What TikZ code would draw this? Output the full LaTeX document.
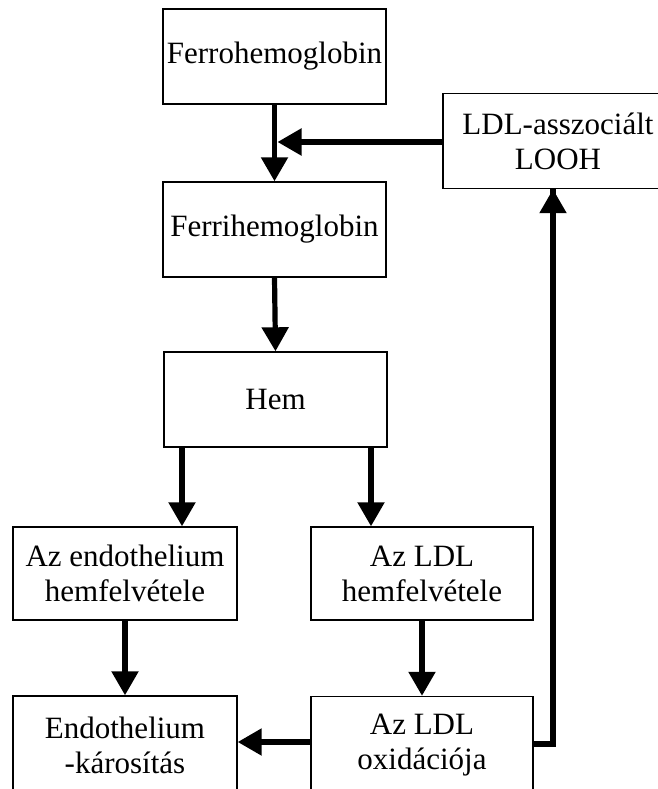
\documentclass[tikz,border=0pt]{standalone}
\usepackage{fontspec}
\setmainfont{Liberation Serif}
\usetikzlibrary{arrows.meta}
\tikzset{
  box/.style={draw=black, line width=1.4pt, rectangle, align=center, inner sep=0pt,
    minimum width=223pt, minimum height=95pt, font=\fontsize{31}{35}\selectfont},
  arr/.style={line width=5.2pt, -{Triangle[length=24pt,width=26pt]}},
  conn/.style={line width=5.2pt, line join=miter}
}
\begin{document}
\begin{tikzpicture}[x=1pt,y=-1pt]
\useasboundingbox (0,0) rectangle (657,789);
\fill[white] (0,0) rectangle (657,789);
\node[box] (ferro) at (274.5,56.5) {Ferrohemoglobin};
\node[box, minimum width=230pt] (looh) at (558,141) {LDL-asszociált\\LOOH};
\node[box] (ferri) at (274.5,229.5) {Ferrihemoglobin};
\node[box] (hem) at (275.5,399.5) {Hem};
\node[box, minimum width=224pt, minimum height=93pt] (endo) at (125,573.5) {Az endothelium\\hemfelvétele};
\node[box, minimum width=222pt, minimum height=93pt] (ldlh) at (422,573.5) {Az LDL\\hemfelvétele};
\node[box, minimum width=224pt, minimum height=98pt] (kar) at (125,745) {Endothelium\\-károsítás};
\node[box, minimum width=222pt, minimum height=98pt] (oxi) at (422,745.5) {Az LDL\\oxidációja};
\coordinate (j) at (277.5,142);
\draw[arr] (ferro.south) -- (ferri.north);
\draw[arr] (looh.west |- j) -- (j);
\draw[arr] (ferri.south) -- (hem.north);
\draw[arr] ([xshift=-93.5pt]hem.south) -- ([xshift=-93.5pt]hem.south |- endo.north);
\draw[arr] ([xshift=95.5pt]hem.south) -- ([xshift=95.5pt]hem.south |- ldlh.north);
\draw[arr] (endo.south) -- (kar.north);
\draw[arr] (ldlh.south) -- (oxi.north);
\coordinate (c1) at (oxi.west |- 0,742);
\draw[arr] (c1) -- (kar.east |- c1);
\coordinate (c2) at (553,744);
\draw[conn] (oxi.east |- c2) -- (c2) -- (c2 |- looh.south);
\draw[arr] (553,300) -- (c2 |- looh.south);
\end{tikzpicture}
\end{document}
